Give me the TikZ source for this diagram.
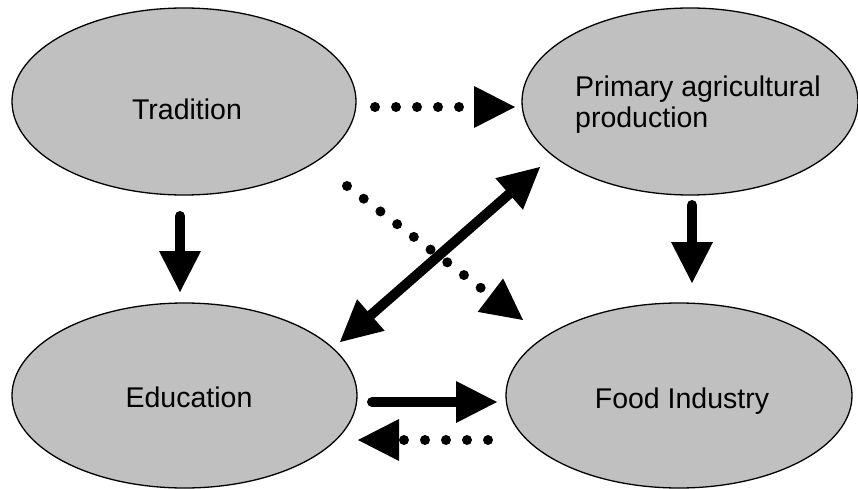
\documentclass[tikz,border=0pt]{standalone}
\usepackage{fontspec}
\setmainfont{Liberation Sans}
\usetikzlibrary{shapes.geometric,arrows.meta,calc}
\definecolor{ovalgray}{RGB}{192,192,192}
\begin{document}
\begin{tikzpicture}[x=1pt,y=-1pt,
  oval/.style={ellipse, draw=black, line width=1.3pt, fill=ovalgray, inner sep=0pt},
  lbl/.style={font=\fontsize{28.5}{31}\selectfont, inner sep=0pt},
  tip/.style={-{Triangle[length=41pt,width=42pt,line width=0pt]}},
  solidarrow/.style={line width=10pt, line cap=round, tip},
  dotarrow/.style={line width=10pt, line cap=round, dash pattern=on 0pt off 21pt, tip},
  bothways/.style={line width=10pt, line cap=round, {Triangle[length=41pt,width=42pt,line width=0pt]}-{Triangle[length=41pt,width=42pt,line width=0pt]}}
  ]
\useasboundingbox (0,0) rectangle (858,489);
% ellipses
\node[oval, minimum width=344pt, minimum height=187pt] (t) at (184,101.5) {};
\node[oval, minimum width=336pt, minimum height=187pt] (p) at (690,101.5) {};
\node[oval, minimum width=345pt, minimum height=185pt] (e) at (184.5,395.5) {};
\node[oval, minimum width=346pt, minimum height=185pt] (f) at (679,395.5) {};
% labels
\node[lbl, anchor=base] (tt) at ($(t.center)+(3,18.5)$) {Tradition};
\node[lbl, anchor=base west, align=left] (pt) at ($(p.center)+(-115,26.5)$) {Primary agricultural\\production};
\node[lbl, anchor=base] (et) at ($(e.center)+(4.5,11.5)$) {Education};
\node[lbl, anchor=base] (ft) at ($(f.center)+(3,12.5)$) {Food Industry};
% connectors
\draw[solidarrow] ($(t.center)+(-4,114.5)$) -- ($(e.center)+(-4.5,-103.5)$);
\draw[solidarrow] ($(p.center)+(2,103.5)$) -- ($(f.center)+(13,-112.5)$);
\draw[dotarrow] ($(t.center)+(191,5.5)$) -- ($(p.center)+(-175,5.5)$);
\draw[dotarrow] ($(t.center)+(163,84.5)$) -- ($(f.center)+(-156,-75.5)$);
\draw[bothways] ($(e.center)+(155.5,-53.5)$) -- ($(p.center)+(-150,65.5)$);
\draw[solidarrow] ($(e.center)+(187.5,6.5)$) -- ($(f.center)+(-182,6.5)$);
\draw[dotarrow] ($(f.center)+(-191,44.5)$) -- ($(e.center)+(173.5,44.5)$);
\end{tikzpicture}
\end{document}
